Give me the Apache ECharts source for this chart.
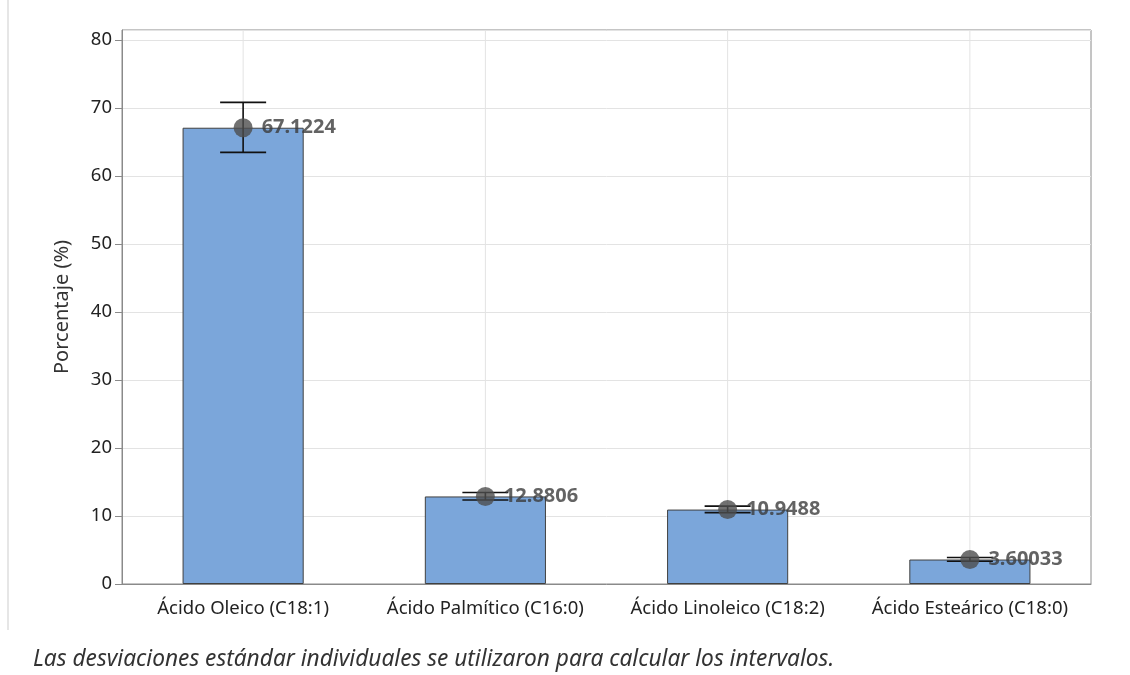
<!DOCTYPE html>
<html><head><meta charset="utf-8">
<script src="https://cdn.jsdelivr.net/npm/echarts@6/dist/echarts.min.js"></script>
<style>html,body{margin:0;padding:0;background:#fff}#c{width:1130px;height:675px}</style>
</head><body><div id="c"></div>
<script>
const categories = ['Ácido Oleico (C18:1)', 'Ácido Palmítico (C16:0)', 'Ácido Linoleico (C18:2)', 'Ácido Esteárico (C18:0)'];
const means = [67.1224, 12.8806, 10.9488, 3.60033];
const lowerBounds = [63.5, 12.35, 10.5, 3.35];
const upperBounds = [70.85, 13.45, 11.45, 3.9];
const yTicks = [0, 10, 20, 30, 40, 50, 60, 70, 80];
const footnote = 'Las desviaciones estándar individuales se utilizaron para calcular los intervalos.';

const chart = echarts.init(document.getElementById('c'));
const font = 'Noto Sans, sans-serif';
chart.setOption({
  animation: false,
  backgroundColor: '#fff',
  grid: { left: 122, right: 39, top: 30, bottom: 91, show: true, borderColor: '#8a8a8a', borderWidth: 1 },
  xAxis: {
    type: 'category', data: categories,
    axisLine: { lineStyle: { color: '#8a8a8a' } },
    axisTick: { alignWithLabel: true, length: 6, lineStyle: { color: '#8a8a8a' } },
    axisLabel: { color: '#222', fontSize: 18.5, fontFamily: font, margin: 15, interval: 0, hideOverlap: false },
    splitLine: { show: false }
  },
  yAxis: {
    type: 'value', min: 0, max: 81.5, interval: 10,
    name: 'Porcentaje (%)', nameLocation: 'middle', nameGap: 50, nameRotate: 90,
    nameTextStyle: { color: '#333', fontSize: 20, fontFamily: font },
    axisLine: { show: true, lineStyle: { color: '#8a8a8a' } },
    axisTick: { show: true, length: 7, lineStyle: { color: '#8a8a8a' } },
    axisLabel: { color: '#222', fontSize: 18.5, fontFamily: font, margin: 10, showMaxLabel: false,
      formatter: v => yTicks.includes(v) ? String(v) : '' },
    splitLine: { show: true, lineStyle: { color: '#e3e3e3' } }
  },
  series: [
    {
      type: 'custom', z: 1, silent: true,
      data: categories.map((c, i) => [i]),
      renderItem: (params, api) => {
        const cs = params.coordSys;
        const x = api.coord([api.value(0), 0])[0];
        return { type: 'line', shape: { x1: x, y1: cs.y, x2: x, y2: cs.y + cs.height },
          style: { stroke: '#e3e3e3', lineWidth: 1 } };
      }
    },
    {
      type: 'bar', z: 2, data: means, barWidth: '50%',
      itemStyle: { color: '#7ba6da', borderColor: '#404040', borderWidth: 1 }
    },
    {
      type: 'custom', z: 3, silent: true,
      data: categories.map((c, i) => [i, lowerBounds[i], upperBounds[i]]),
      renderItem: (params, api) => {
        const lo = api.coord([api.value(0), api.value(1)]);
        const hi = api.coord([api.value(0), api.value(2)]);
        const hw = 23;
        const st = { stroke: '#111', lineWidth: 1.6 };
        return { type: 'group', children: [
          { type: 'line', shape: { x1: lo[0], y1: lo[1], x2: hi[0], y2: hi[1] }, style: st },
          { type: 'line', shape: { x1: hi[0] - hw, y1: hi[1], x2: hi[0] + hw, y2: hi[1] }, style: st },
          { type: 'line', shape: { x1: lo[0] - hw, y1: lo[1], x2: lo[0] + hw, y2: lo[1] }, style: st }
        ]};
      }
    },
    {
      type: 'scatter', z: 4, data: means, symbol: 'circle', symbolSize: 19,
      itemStyle: { color: '#4d4d4d' },
      label: { show: true, position: 'right', distance: 9, color: '#3c3c3c', fontSize: 20,
        fontWeight: 'bold', fontFamily: font, formatter: p => String(p.value) }
    }
  ],
  graphic: [
    { type: 'rect', left: 7, top: 0, shape: { width: 2, height: 630 }, style: { fill: '#e6e6e6' } },
    { type: 'text', left: 33, top: 648, style: { text: footnote, fill: '#333', font: 'italic 22.7px Noto Sans, sans-serif' } }
  ]
});
</script></body></html>
